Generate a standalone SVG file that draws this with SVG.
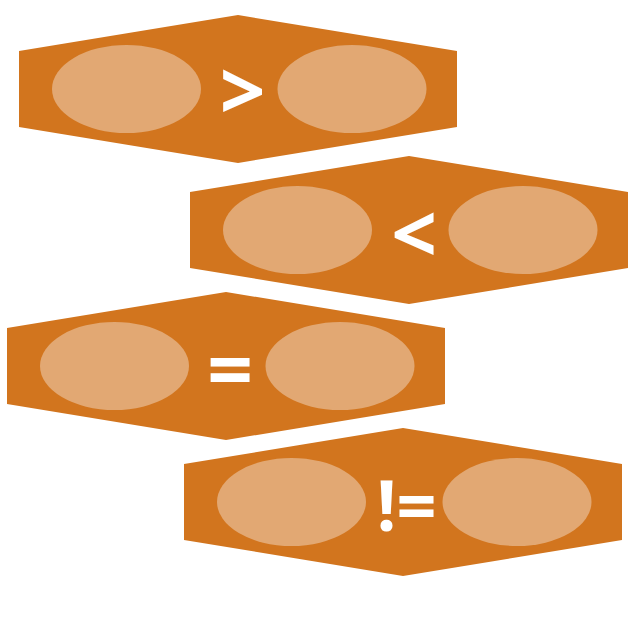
<svg xmlns="http://www.w3.org/2000/svg" width="640" height="640" viewBox="0 0 640 640">
<style>
.hex{fill:#D2751E}
.oval{fill:#E2A873}
.op{fill:#FFFFFF;font-family:"Open Sans",sans-serif;font-weight:bold;text-anchor:middle}
</style>
<defs>
<polygon id="hexshape" points="-219,-38 0,-74 219,-38 219,38 0,74 -219,38"/>
</defs>
<rect width="640" height="640" fill="#FFFFFF"/>
<g id="connectors"/>
<g id="node-gt" transform="translate(238,89)">
<use href="#hexshape" class="hex"/>
<ellipse class="oval" cx="-111.5" cy="0" rx="74.5" ry="44"/>
<ellipse class="oval" cx="114" cy="0" rx="74.5" ry="44"/>
<text class="op" x="4.5" y="31" font-size="80">&gt;</text>
</g>
<g id="node-lt" transform="translate(409,230)">
<use href="#hexshape" class="hex"/>
<ellipse class="oval" cx="-111.5" cy="0" rx="74.5" ry="44"/>
<ellipse class="oval" cx="114" cy="0" rx="74.5" ry="44"/>
<text class="op" x="5" y="33" font-size="80">&lt;</text>
</g>
<g id="node-eq" transform="translate(226,366)">
<use href="#hexshape" class="hex"/>
<ellipse class="oval" cx="-111.5" cy="0" rx="74.5" ry="44"/>
<ellipse class="oval" cx="114" cy="0" rx="74.5" ry="44"/>
<text class="op" x="4" y="33" font-size="80">=</text>
</g>
<g id="node-ne" transform="translate(403,502)">
<use href="#hexshape" class="hex"/>
<ellipse class="oval" cx="-111.5" cy="0" rx="74.5" ry="44"/>
<ellipse class="oval" cx="114" cy="0" rx="74.5" ry="44"/>
<text class="op" x="3.5" y="28.5" font-size="70">!=</text>
</g>
</svg>
